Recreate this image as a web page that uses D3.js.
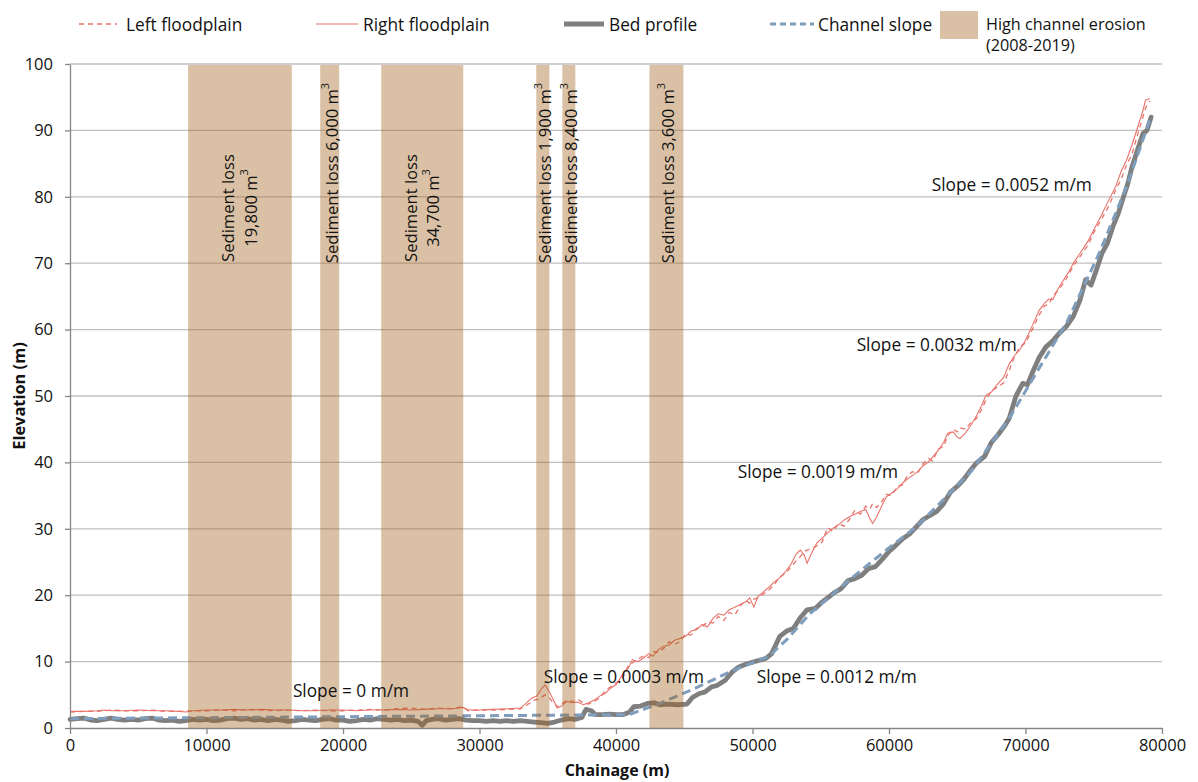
<!DOCTYPE html>
<html>
<head>
<meta charset="utf-8">
<script src="https://cdn.jsdelivr.net/npm/d3@7"></script>
<style>
  html, body { margin: 0; padding: 0; background: #fff; }
  svg { display: block; font-family: "Open Sans", "Noto Sans", sans-serif; }
</style>
</head>
<body>
<svg id="chart" width="1198" height="782"></svg>
<script>
// ---------- DATA ----------
const xTicks = [0, 10000, 20000, 30000, 40000, 50000, 60000, 70000, 80000];
const yTicks = [0, 10, 20, 30, 40, 50, 60, 70, 80, 90, 100];

// [chainage (m), elevation (m)]
const leftFloodplain = [
  [0,2.4],[1000,2.5],[2000,2.5],[3000,2.7],[4000,2.6],[5000,2.6],[6000,2.7],[7000,2.5],[8000,2.5],[9000,2.6],
  [10000,2.6],[11000,2.7],[12000,2.6],[13000,2.8],[14000,2.7],[15000,2.6],[16000,2.7],[17000,2.6],[18000,2.7],[19000,2.6],
  [20000,2.6],[21000,2.7],[22000,2.8],[23000,2.7],[24000,2.9],[25000,3.0],[26000,2.8],[27000,3.0],[28000,2.9],[28700,3.2],
  [29200,2.6],[30000,2.7],[31000,2.7],[32000,2.8],[33000,2.9],[33500,3.5],[34000,4.2],[34400,4.4],[34800,5.0],[35100,4.6],
  [35400,3.8],[35700,3.2],[36000,3.6],[36400,4.2],[36800,4.0],[37200,4.3],[37600,3.8],[38000,3.6],[38400,4.0],[38800,4.5],
  [39200,5.6],[39600,6.2],[40000,6.8],[40300,7.2],[40600,8.0],[40900,9.4],[41200,9.8],[41600,10.4],[42000,10.8],[42400,10.6],
  [42700,11.5],[43100,11.4],[43500,12.0],[43900,13.0],[44300,12.6],[44700,13.0],[45100,14.2],[45500,14.0],[45900,15.0],[46300,15.2],
  [46700,16.0],[47100,15.8],[47500,16.8],[47900,16.2],[48300,17.4],[48700,17.0],[49100,18.4],[49500,19.2],[49800,18.8],[50100,19.4],
  [50400,19.6],[50800,20.2],[51200,20.8],[51600,21.6],[52000,22.8],[52400,23.2],[52800,24.2],[53200,25.2],[53500,25.8],[53800,26.6],
  [54000,26.8],[54300,27.0],[54700,27.4],[55100,28.0],[55500,30.2],[55900,29.6],[56300,30.8],[56700,30.4],[57100,31.4],[57500,32.8],
  [57900,32.2],[58300,33.4],[58600,33.0],[58800,33.8],[59100,33.2],[59500,34.2],[59800,35.2],[60200,35.0],[60600,36.4],[61000,36.6],
  [61300,37.8],[61700,38.6],[62100,38.4],[62500,39.8],[62900,40.6],[63200,40.2],[63600,42.0],[64000,42.4],[64300,44.0],[64700,45.0],
  [65000,44.6],[65200,45.2],[65600,45.0],[66000,46.0],[66400,46.6],[66800,48.0],[67100,49.4],[67500,50.8],[68000,51.4],[68400,52.0],
  [68800,53.8],[69200,56.0],[69600,57.4],[70000,58.0],[70500,60.0],[71000,62.2],[71400,63.6],[71700,63.8],[72000,65.0],[72400,66.0],
  [72800,67.0],[73200,68.4],[73500,69.6],[74000,71.0],[74600,72.8],[75000,74.6],[75500,76.4],[76100,78.6],[76600,81.0],[77000,82.6],
  [77400,84.8],[77800,86.4],[78300,90.0],[78600,92.0],[78800,93.4],[79100,94.4]
];

const rightFloodplain = [
  [0,2.5],[1000,2.5],[2000,2.6],[2500,2.7],[3000,2.6],[4000,2.6],[5000,2.7],[6000,2.6],[7000,2.6],[8000,2.5],
  [8500,2.4],[9000,2.6],[10000,2.7],[11000,2.7],[12000,2.8],[13000,2.7],[14000,2.8],[15000,2.7],[16000,2.7],[17000,2.6],
  [18000,2.6],[19000,2.7],[20000,2.7],[21000,2.6],[22000,2.7],[23000,2.7],[24000,2.8],[25000,2.7],[26000,2.8],[27000,2.9],
  [28000,2.9],[28800,3.1],[29200,2.7],[30000,2.7],[31000,2.8],[32000,2.9],[33000,3.0],[33400,3.7],[33800,4.5],[34200,4.8],
  [34500,5.8],[34800,6.5],[35100,5.5],[35400,4.3],[35700,3.0],[36000,3.3],[36400,4.0],[36800,3.8],[37200,3.9],[37600,3.5],
  [38000,3.8],[38400,4.2],[38800,4.8],[39200,5.2],[39600,6.0],[40000,6.5],[40300,7.5],[40600,8.5],[40900,9.0],[41200,10.3],
  [41600,10.0],[42000,10.5],[42400,11.2],[42700,10.8],[43100,11.8],[43500,12.3],[43900,12.5],[44300,13.2],[44700,13.5],[45100,13.8],
  [45500,14.6],[45900,14.8],[46300,15.6],[46700,15.2],[47100,16.5],[47500,17.2],[47900,17.0],[48300,17.8],[48700,18.2],[49100,18.6],
  [49500,19.0],[49800,19.6],[50100,18.2],[50400,19.8],[50800,20.5],[51200,21.2],[51600,22.0],[52000,22.6],[52400,23.5],[52800,24.6],
  [53200,26.2],[53500,26.8],[53800,26.0],[54000,24.8],[54300,26.2],[54700,27.8],[55100,28.6],[55500,29.4],[55900,30.1],[56300,30.6],
  [56700,31.3],[57100,31.8],[57500,32.2],[57900,32.6],[58300,32.9],[58600,31.5],[58800,30.8],[59100,31.8],[59500,33.6],[59800,34.8],
  [60200,35.4],[60600,36.0],[61000,36.9],[61300,37.4],[61700,38.0],[62100,38.6],[62500,39.5],[62900,40.1],[63200,40.8],[63600,41.8],
  [64000,43.0],[64300,44.4],[64700,44.6],[65000,43.8],[65200,43.6],[65600,44.4],[66000,45.6],[66400,47.0],[66800,48.6],[67100,50.1],
  [67500,50.6],[68000,51.9],[68400,52.8],[68800,54.8],[69200,56.1],[69600,57.0],[70000,58.4],[70500,60.6],[71000,62.9],[71400,64.0],
  [71700,64.6],[72000,64.5],[72400,66.2],[72800,67.5],[73200,68.8],[73500,70.0],[74000,71.5],[74600,73.4],[75000,75.0],[75500,77.0],
  [76100,79.5],[76600,81.5],[77000,83.8],[77400,85.5],[77800,87.8],[78300,91.0],[78600,93.0],[78800,94.6],[79100,94.8]
];

const bedProfile = [
  [0,1.3],[500,1.4],[1000,1.5],[1500,1.2],[2000,1.1],[2500,1.3],[3000,1.5],[3500,1.3],[4000,1.2],[4500,1.3],
  [5000,1.2],[5500,1.4],[6000,1.5],[6500,1.2],[7000,1.1],[7500,1.2],[8000,1.0],[8500,1.1],[9000,1.3],[9500,1.2],
  [10000,1.3],[10500,1.1],[11000,1.2],[11500,1.4],[12000,1.5],[12500,1.3],[13000,1.4],[13500,1.2],[14000,1.3],[14500,1.1],
  [15000,1.3],[15500,1.2],[16000,1.0],[16500,1.1],[17000,1.3],[17500,1.2],[18000,1.1],[18500,1.3],[19000,1.4],[19500,1.2],
  [20000,1.2],[20500,1.0],[21000,1.1],[21500,1.3],[22000,1.2],[22500,1.4],[23000,1.3],[23500,1.2],[24000,1.3],[24500,1.1],
  [25000,1.2],[25500,1.0],[25800,0.4],[26100,1.1],[26500,1.3],[27000,1.4],[27500,1.2],[28000,1.3],[28500,1.4],[29000,1.2],
  [29500,1.1],[30000,1.1],[30500,1.0],[31000,1.1],[31500,1.0],[32000,1.1],[32500,1.0],[33000,1.1],[33500,1.0],[34000,0.9],
  [34500,0.8],[35000,0.7],[35500,0.9],[36000,1.2],[36500,1.4],[37000,1.3],[37500,1.6],[37800,2.8],[38200,2.6],[38500,2.0],
  [39000,2.0],[39500,2.1],[40000,2.0],[40500,2.0],[41000,2.4],[41300,3.2],[41800,3.3],[42300,3.7],[42800,3.8],[43200,3.5],
  [43800,3.6],[44500,3.5],[45200,3.6],[45600,4.6],[46100,5.2],[46500,5.4],[47000,6.2],[47400,6.4],[48000,7.2],[48500,8.4],
  [49000,9.2],[49500,9.6],[50000,9.9],[50500,10.2],[51000,10.5],[51400,11.2],[51700,12.5],[52000,13.8],[52500,14.6],[53000,15.0],
  [53500,16.6],[54000,17.8],[54600,18.0],[55000,18.8],[55500,19.6],[56000,20.4],[56500,21.0],[57000,22.2],[57500,22.5],[58000,23.0],
  [58500,24.0],[59000,24.3],[59500,25.4],[60000,26.6],[60500,27.5],[61000,28.5],[61500,29.2],[62000,30.3],[62500,31.4],[63000,32.0],
  [63500,32.6],[64000,33.8],[64500,35.5],[65000,36.4],[65500,37.5],[66000,38.9],[66400,39.9],[67000,40.9],[67500,43.0],[68000,44.2],
  [68500,45.6],[68800,46.6],[69300,50.0],[69800,51.9],[70150,51.7],[70500,53.5],[71000,55.8],[71500,57.4],[72000,58.3],[72500,59.5],
  [73000,60.5],[73500,62.0],[74000,64.5],[74400,67.5],[74800,66.7],[75200,69.0],[75600,71.5],[76000,73.0],[76400,75.5],[76800,77.5],
  [77100,79.5],[77500,82.0],[77800,84.5],[78200,87.0],[78600,89.5],[78900,90.0],[79200,92.0]
];

const channelSlope = [
  [0,1.4],[5000,1.5],[10000,1.55],[20000,1.7],[30000,1.85],[40500,2.0],[41000,2.05],[43200,3.7],[45600,5.8],[48500,8.6],
  [51200,10.8],[52500,13.3],[54200,17.2],[57100,22.3],[59800,26.8],[62000,30.3],[63700,33.8],[66000,38.6],[68800,46.6],[71000,54.2],
  [73000,61.0],[75400,71.5],[77400,81.5],[79100,91.5]
];

// High channel erosion zones [start, end] chainage
const erosionStart = [8650, 18330, 22800, 34160, 36070, 42450];
const erosionEnd   = [16250, 19720, 28810, 35120, 37020, 44940];
const erosionLine1 = ["Sediment loss", "Sediment loss 6,000 m", "Sediment loss", "Sediment loss 1,900 m", "Sediment loss 8,400 m", "Sediment loss 3,600 m"];
const erosionLine2 = ["19,800 m", null, "34,700 m", null, null, null];

// Slope annotations
const slopeLabels = ["Slope = 0 m/m", "Slope = 0.0003 m/m", "Slope = 0.0012 m/m", "Slope = 0.0019 m/m", "Slope = 0.0032 m/m", "Slope = 0.0052 m/m"];
const slopeLabelX = [16330, 34710, 50310, 48920, 57630, 63130];
const slopeLabelY = [5.7, 7.7, 7.8, 38.6, 57.7, 81.9];

// ---------- CHART ----------
const svg = d3.select("#chart");
const x = d3.scaleLinear().domain([0, 80000]).range([70, 1162]);
const y = d3.scaleLinear().domain([0, 100]).range([728, 64]);

const COL_FLOOD = "#e8736b";
const COL_BED = "#7f7f7f";
const COL_SLOPE = "#7f9dbd";
const COL_BAND = "rgb(160,96,22)";
const BAND_OP = 0.39;

// gridlines
svg.append("g").selectAll("line").data(yTicks.filter(d => d > 0)).join("line")
  .attr("x1", x(0)).attr("x2", x(80000))
  .attr("y1", d => y(d)).attr("y2", d => y(d))
  .attr("stroke", "#bfbfbf").attr("stroke-width", 1.3);

const line = d3.line().x(d => x(d[0])).y(d => y(d[1]));

svg.append("path").datum(leftFloodplain).attr("d", line)
  .attr("fill", "none").attr("stroke", COL_FLOOD).attr("stroke-width", 1.3)
  .attr("stroke-dasharray", "5,4");
svg.append("path").datum(rightFloodplain).attr("d", line)
  .attr("fill", "none").attr("stroke", COL_FLOOD).attr("stroke-width", 1.1);
svg.append("path").datum(bedProfile).attr("d", line)
  .attr("fill", "none").attr("stroke", COL_BED).attr("stroke-width", 4.8)
  .attr("stroke-linejoin", "round").attr("stroke-linecap", "round");
svg.append("path").datum(channelSlope).attr("d", line)
  .attr("fill", "none").attr("stroke", COL_SLOPE).attr("stroke-width", 3)
  .attr("stroke-dasharray", "9,5");

// erosion bands
svg.append("g").selectAll("rect").data(erosionStart).join("rect")
  .attr("x", (d, i) => x(d))
  .attr("width", (d, i) => x(erosionEnd[i]) - x(d))
  .attr("y", y(100) + 1)
  .attr("height", y(0) - y(100) - 1)
  .attr("fill", COL_BAND).attr("fill-opacity", BAND_OP);

// band labels
erosionStart.forEach((s, i) => {
  const cx = x((s + erosionEnd[i]) / 2);
  const two = erosionLine2[i] !== null;
  const cy = two ? 208 : 173;
  const g = svg.append("g").attr("transform", `translate(${cx},${cy}) rotate(-90)`);
  const addLine = (txt, dy) => {
    const t = g.append("text").attr("x", 0).attr("y", dy)
      .attr("text-anchor", "middle").attr("dominant-baseline", "central")
      .attr("font-size", 16.6).attr("fill", "#111");
    if (txt.endsWith(" m")) {
      t.append("tspan").text(txt);
      t.append("tspan").attr("font-size", 11).attr("dy", -7).text("3");
    } else {
      t.text(txt);
    }
  };
  if (two) {
    addLine(erosionLine1[i], -12);
    addLine(erosionLine2[i], 10);
  } else {
    addLine(erosionLine1[i], 1);
  }
});

// slope labels
svg.append("g").selectAll("text").data(slopeLabels).join("text")
  .attr("x", (d, i) => x(slopeLabelX[i]))
  .attr("y", (d, i) => y(slopeLabelY[i]))
  .attr("dominant-baseline", "central")
  .attr("font-size", 17.3).attr("fill", "#111")
  .text(d => d);

// axes
const xAxis = svg.append("g").attr("transform", `translate(0,${y(0)})`)
  .call(d3.axisBottom(x).tickValues(xTicks).tickFormat(d => String(d)).tickSize(6).tickPadding(5).tickSizeOuter(0));
const yAxis = svg.append("g").attr("transform", `translate(${x(0)},0)`)
  .call(d3.axisLeft(y).tickValues(yTicks).tickFormat(d => String(d)).tickSize(5).tickPadding(12).tickSizeOuter(0));
[xAxis, yAxis].forEach(a => {
  a.select(".domain").attr("stroke", "#868686").attr("stroke-width", 1.3);
  a.selectAll(".tick line").attr("stroke", "#868686").attr("stroke-width", 1.3);
  a.selectAll(".tick text").attr("font-size", 16.5).attr("fill", "#111")
    .attr("font-family", "'Open Sans', sans-serif");
});

// axis titles
svg.append("text").attr("x", 617).attr("y", 770).attr("text-anchor", "middle")
  .attr("dominant-baseline", "central").attr("font-size", 16).attr("font-weight", "bold")
  .attr("fill", "#111").text("Chainage (m)");
svg.append("text").attr("transform", "translate(18,396) rotate(-90)").attr("text-anchor", "middle")
  .attr("dominant-baseline", "central").attr("font-size", 16.4).attr("font-weight", "bold")
  .attr("fill", "#111").text("Elevation (m)");

// legend
const lg = svg.append("g");
const LEG_Y = 24;
const legendItems = [
  {x1: 79, x2: 117, tx: 126, label: "Left floodplain", stroke: COL_FLOOD, w: 1.3, dash: "5,4"},
  {x1: 316, x2: 358, tx: 363, label: "Right floodplain", stroke: COL_FLOOD, w: 1.1, dash: null},
  {x1: 564, x2: 604, tx: 609, label: "Bed profile", stroke: COL_BED, w: 4.8, dash: null},
  {x1: 770, x2: 814, tx: 818, label: "Channel slope", stroke: COL_SLOPE, w: 3, dash: "6,4"}
];
legendItems.forEach(it => {
  lg.append("line").attr("x1", it.x1).attr("x2", it.x2).attr("y1", LEG_Y).attr("y2", LEG_Y)
    .attr("stroke", it.stroke).attr("stroke-width", it.w)
    .attr("stroke-dasharray", it.dash);
  lg.append("text").attr("x", it.tx).attr("y", LEG_Y).attr("dominant-baseline", "central")
    .attr("font-size", 17.3).attr("fill", "#111").text(it.label);
});
lg.append("rect").attr("x", 940).attr("y", 11).attr("width", 38).attr("height", 28)
  .attr("fill", COL_BAND).attr("fill-opacity", BAND_OP);
lg.append("text").attr("x", 986).attr("y", LEG_Y).attr("dominant-baseline", "central")
  .attr("font-size", 16.2).attr("fill", "#111").text("High channel erosion");
lg.append("text").attr("x", 986).attr("y", 45).attr("dominant-baseline", "central")
  .attr("font-size", 16.2).attr("fill", "#111").text("(2008-2019)");
</script>
</body>
</html>
